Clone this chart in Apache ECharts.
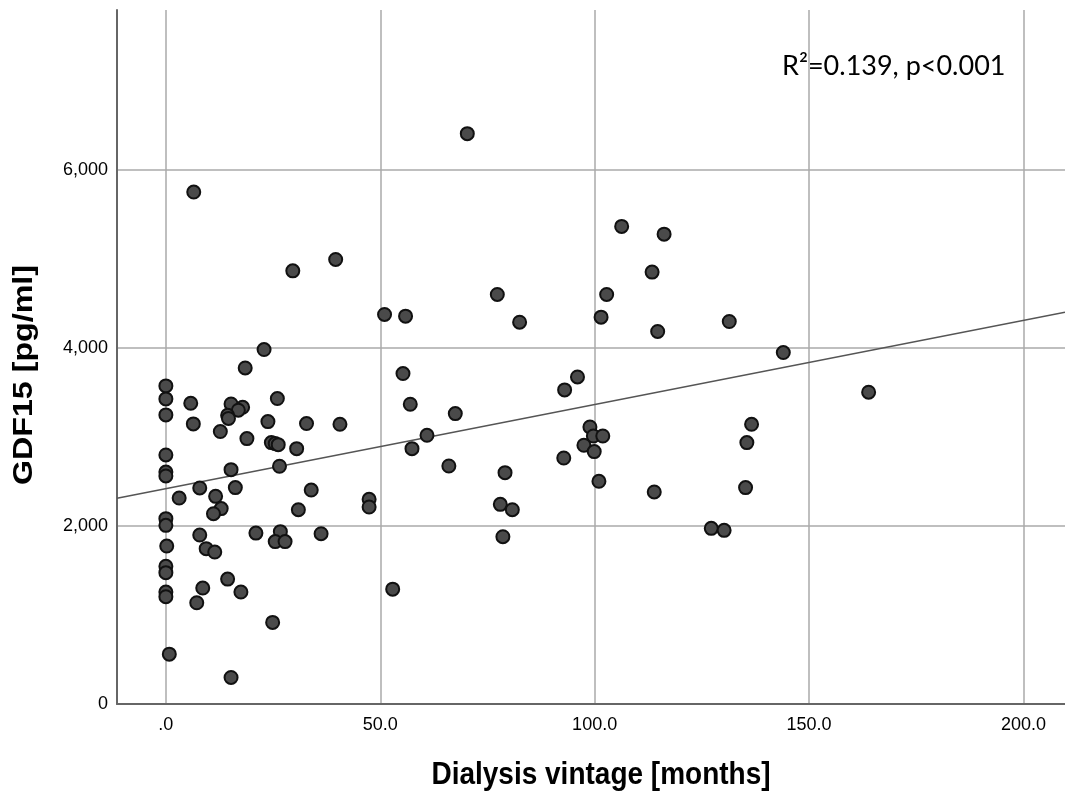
<!DOCTYPE html>
<html>
<head>
<meta charset="UTF-8">
<title>GDF15 vs dialysis vintage</title>
<script src="https://cdn.jsdelivr.net/npm/echarts@6.0.0/dist/echarts.min.js"></script>
<style>
  html, body { margin: 0; padding: 0; background: #fff; }
  #chart { width: 1065px; height: 795px; }
</style>
</head>
<body>
<div id="chart"></div>
<script>
// dialysis vintage [months]
var vintage = [
  0, 0, 0, 0, 0, 0, 0, 0, 0.2, 0, 0, 0, 0, 0.8,
  6.5, 29.6, 39.6, 51.0, 55.9, 22.9, 18.5, 55.3, 5.8, 15.2,
  17.9, 16.9, 14.4, 14.6, 26.0, 57.0, 6.4, 12.7, 23.8, 32.8,
  40.6, 18.9, 24.6, 25.5, 26.2, 30.5, 15.2, 26.5, 7.9, 16.2,
  3.1, 11.6, 33.9, 12.9, 11.1, 30.9, 47.4, 47.4, 7.9, 21.0,
  26.7, 25.5, 27.8, 36.2, 9.4, 11.4, 14.4, 8.6, 17.5, 7.2,
  52.9, 24.9, 15.2, 70.3, 106.3, 116.2, 113.4, 77.3, 102.8, 82.5,
  101.5, 114.7, 96.0, 93.0, 67.5, 60.9, 57.4, 66.0, 79.1, 78.0,
  80.8, 78.6, 92.8, 98.9, 99.7, 101.9, 97.5, 99.9, 101.0, 113.9,
  127.2, 131.4, 144.0, 163.9, 136.6, 135.5, 135.2, 130.2
];
// GDF15 [pg/ml]
var gdf15 = [
  3575, 3429, 3249, 2799, 2607, 2563, 2083, 2008, 1775, 1547, 1476, 1258, 1206, 560,
  5754, 4868, 4996, 4378, 4359, 3984, 3777, 3714, 3380, 3372,
  3335, 3302, 3245, 3210, 3433, 3369, 3148, 3062, 3174, 3152,
  3144, 2983, 2938, 2927, 2915, 2870, 2634, 2672, 2428, 2432,
  2315, 2334, 2405, 2196, 2139, 2184, 2300, 2214, 1899, 1921,
  1937, 1825, 1825, 1914, 1746, 1708, 1404, 1303, 1258, 1138,
  1291, 917, 298, 6410, 5368, 5281, 4854, 4603, 4603, 4291,
  4348, 4187, 3676, 3530, 3264, 3020, 2870, 2675, 2600, 2244,
  2184, 1880, 2765, 3114, 3012, 3012, 2908, 2837, 2503, 2383,
  1974, 4299, 3950, 3504, 3144, 2938, 2432, 1952
];

// fit line
var fitIntercept = 2420;
var fitSlope = 9.46;

var xMin = -11.4, xMax = 209.7;
var yMin = 0, yMax = 7800;

var points = [];
for (var i = 0; i < vintage.length; i++) {
  points.push([vintage[i], gdf15[i]]);
}
var fitLine = [
  [xMin, fitIntercept + fitSlope * xMin],
  [xMax, fitIntercept + fitSlope * xMax]
];

// the source image is a little stretched vertically
var stretch = 1.15;

var chart = echarts.init(document.getElementById('chart'));
chart.setOption({
  animation: false,
  backgroundColor: '#fff',
  grid: { left: 117, right: 0, top: 10, bottom: 91, containLabel: false, outerBoundsMode: 'none' },
  xAxis: {
    type: 'value',
    min: xMin,
    max: xMax,
    axisLine: { lineStyle: { color: '#666', width: 2 } },
    axisTick: { show: false },
    axisLabel: {
      showMinLabel: false,
      showMaxLabel: false,
      margin: 12,
      fontFamily: 'Liberation Sans',
      fontSize: 18,
      color: '#000',
      formatter: function (v) {
        return v === 0 ? '.0' : v.toFixed(1);
      }
    },
    splitLine: { show: true, showMinLine: false, showMaxLine: false, lineStyle: { color: '#aaa', width: 1.5 } }
  },
  yAxis: {
    type: 'value',
    min: yMin,
    max: yMax,
    interval: 2000,
    axisLine: { show: true, onZero: false, lineStyle: { color: '#666', width: 2 } },
    axisTick: { show: false },
    axisLabel: {
      showMaxLabel: false,
      margin: 9,
      fontFamily: 'Liberation Sans',
      fontSize: 18,
      color: '#000',
      formatter: function (v) {
        return v.toLocaleString('en-US');
      }
    },
    splitLine: { show: true, showMinLine: false, showMaxLine: false, lineStyle: { color: '#aaa', width: 1.5 } }
  },
  series: [
    {
      type: 'line',
      data: fitLine,
      symbol: 'none',
      silent: true,
      lineStyle: { color: '#555', width: 1.5 },
      z: 2
    },
    {
      type: 'scatter',
      data: points,
      symbolSize: 13,
      itemStyle: { color: '#4a4a4a', borderColor: '#111', borderWidth: 2, opacity: 1 },
      z: 3
    }
  ],
  graphic: [
    {
      type: 'text',
      x: 601,
      y: 775,
      scaleY: stretch,
      style: {
        text: 'Dialysis vintage [months]',
        font: 'bold 28px "Liberation Sans"',
        fill: '#000',
        textAlign: 'center',
        textVerticalAlign: 'middle'
      }
    },
    {
      type: 'text',
      x: 24,
      y: 375,
      rotation: Math.PI / 2,
      scaleX: stretch,
      style: {
        text: 'GDF15 [pg/ml]',
        font: 'bold 28px "Liberation Sans"',
        fill: '#000',
        textAlign: 'center',
        textVerticalAlign: 'middle'
      }
    },
    {
      type: 'text',
      x: 782,
      y: 66,
      style: {
        text: 'R\u00b2=0.139, p<0.001',
        font: '27px Lato',
        fill: '#000',
        textVerticalAlign: 'middle'
      }
    }
  ]
});
</script>
</body>
</html>
